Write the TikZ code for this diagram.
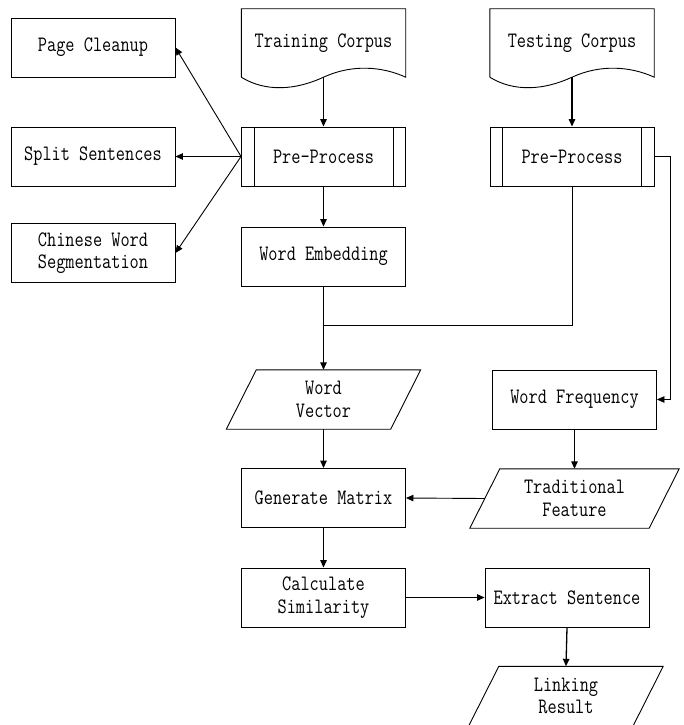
\documentclass[tikz,border=0pt]{standalone}
\usepackage{fontspec}
\setmainfont{Latin Modern Mono}[FakeStretch=0.81]
\usetikzlibrary{arrows.meta}
\newcommand\docpath[1]{%
  \draw[shp] (#1.south west) -- (#1.north west) -- (#1.north east) -- (#1.south east)
    .. controls ([xshift=-24bp,yshift=11bp]#1.south east) and ([xshift=-54bp,yshift=13bp]#1.south east) .. (#1.south)
    .. controls ([xshift=-28bp,yshift=-13bp]#1.south) and ([xshift=-58bp,yshift=-15bp]#1.south) .. (#1.south west);}
\newcommand\prepath[1]{%
  \draw[shp] ([xshift=13bp]#1.north west) -- ([xshift=13bp]#1.south west)
             ([xshift=-13bp]#1.north east) -- ([xshift=-13bp]#1.south east);}
\newcommand\parapath[2]{%
  \draw[shp] ([xshift=#2]#1.north west) -- ([xshift=#2]#1.north east)
    -- ([xshift=-#2]#1.south east) -- ([xshift=-#2]#1.south west) -- cycle;}
\begin{document}
\begin{tikzpicture}[x=1bp,y=-1bp,
  every node/.style={font=\fontsize{22bp}{22.5bp}\selectfont, align=center, inner sep=0pt},
  box/.style={draw, rectangle, minimum width=164bp, minimum height=59bp, line width=0.9bp},
  ghost/.style={rectangle, minimum width=164bp, minimum height=59bp},
  docnode/.style={rectangle, minimum width=164bp, minimum height=68bp},
  tip/.style={-{Triangle[length=7.5bp,width=6.5bp]}},
  arr/.style={line width=1.3bp, tip},
  thinarr/.style={line width=0.9bp, tip},
  ln/.style={line width=0.9bp},
  shp/.style={line width=0.9bp}
]
\useasboundingbox (0,0) rectangle (684,725);

% left column of sub-steps
\node[box] (pc)  at (93,47.5) {Page Cleanup};
\node[box] (ss)  at (93,156.5) {Split Sentences};
\node[box] (cws) at (93,253) {Chinese Word\\Segmentation};

% training branch
\node[docnode] (tc) at (323.5,43) {\raisebox{4.5bp}{Training Corpus}};
\docpath{tc}
\node[box] (pp1) at (323.5,156.5) {Pre-Process};
\prepath{pp1}
\node[box] (we) at (323.5,256.5) {Word Embedding};

% testing branch
\node[docnode] (tsc) at (572,43) {\raisebox{4.5bp}{Testing Corpus}};
\docpath{tsc}
\node[box] (pp2) at (572,156.5) {Pre-Process};
\prepath{pp2}

\node[ghost] (wv) at (323.5,399.5) {Word\\Vector};
\parapath{wv}{15bp}
\node[box] (wf) at (574.5,399.5) {Word Frequency};

\node[box] (gm) at (323.5,498) {Generate Matrix};
\node[ghost, minimum width=179bp] (tf) at (574.5,498.5) {Traditional\\Feature};
\parapath{tf}{15bp}

\node[box] (cs) at (323.5,597.5) {Calculate\\Similarity};
\node[box] (es) at (567,597.5) {Extract Sentence};
\node[ghost] (lr) at (566,696) {Linking\\Result};
\parapath{lr}{15bp}

\coordinate (j) at (323.5,325);

% connectors
\draw[arr] (tc.south) -- (pp1.north);
\draw[arr] (tsc.south) -- (pp2.north);
\draw[thinarr] (pp1.west) -- (pc.east);
\draw[thinarr] (pp1.west) -- (ss.east);
\draw[thinarr] (pp1.west) -- (cws.east);
\draw[arr] (pp1.south) -- (we.north);
\draw[arr] (we.south) -- (wv.north);
\draw[ln] (pp2.south) |- (j);
\draw[thinarr] (pp2.east) -- ++(16,0) |- (wf.east);
\draw[arr] (wv.south) -- (gm.north);
\draw[arr] (wf.south) -- (tf.north);
\draw[thinarr] (tf.west) -- (gm.east);
\draw[arr] (gm.south) -- (cs.north);
\draw[thinarr] (cs.east) -- (es.west);
\draw[arr] (es.south) -- (lr.north);
\end{tikzpicture}
\end{document}
